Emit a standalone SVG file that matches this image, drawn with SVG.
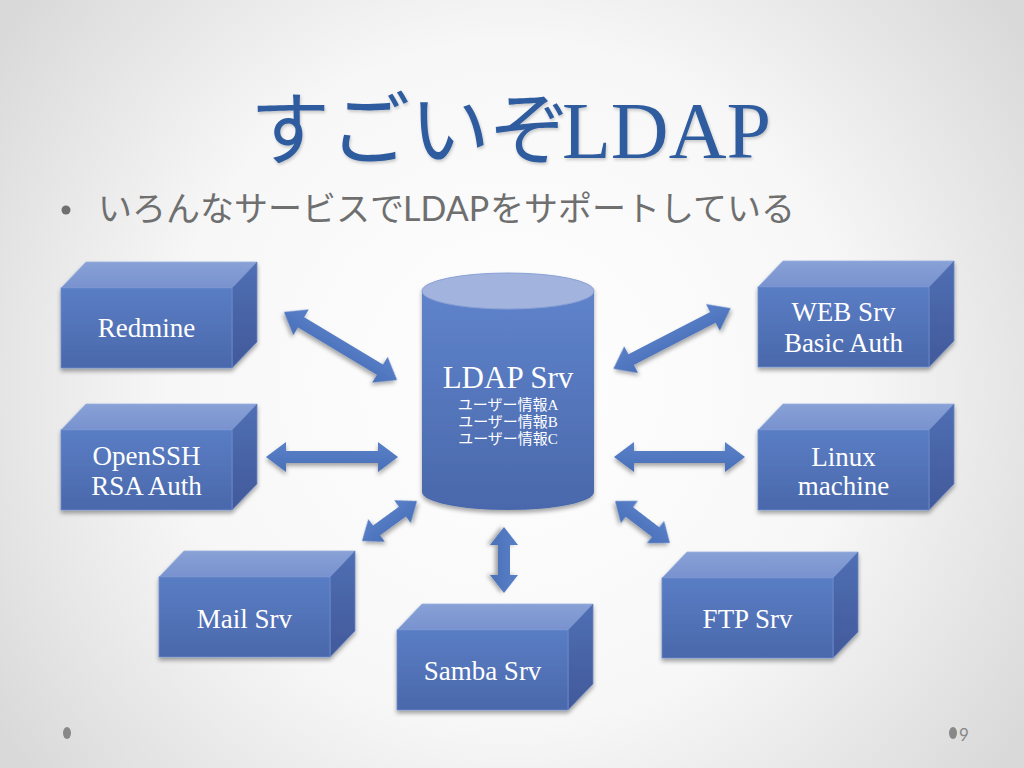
<svg xmlns="http://www.w3.org/2000/svg" xmlns:xlink="http://www.w3.org/1999/xlink" width="1024" height="768" viewBox="0 0 1024 768">
<style>
.lbl{font-family:"Liberation Serif","Noto Sans CJK JP",serif;font-size:27px;fill:#ffffff;text-anchor:middle}
.big{font-size:31px}
.usr{font-size:15px;font-family:"Liberation Serif","Noto Sans CJK JP",serif}
.title{fill:#2f5c9f}
.sub{fill:#6f6f6f;font-family:"Noto Sans CJK JP","Noto Sans",sans-serif;font-size:34px}
.arrow{fill:url(#gArrow);filter:url(#sh)}
</style>
<defs>
<radialGradient id="gBg" cx="512" cy="384" r="620" gradientUnits="userSpaceOnUse">
<stop offset="0" stop-color="#ffffff"/>
<stop offset="0.55" stop-color="#f7f7f7"/>
<stop offset="1" stop-color="#d9d9d9"/>
</radialGradient>
<linearGradient id="gFront" x1="0" y1="0" x2="0" y2="1">
<stop offset="0" stop-color="#5a7dc4"/>
<stop offset="1" stop-color="#4a68ab"/>
</linearGradient>
<linearGradient id="gTop" x1="0" y1="0" x2="0" y2="1">
<stop offset="0" stop-color="#88a1d6"/>
<stop offset="1" stop-color="#7892cf"/>
</linearGradient>
<linearGradient id="gSide" x1="0" y1="0" x2="0" y2="1">
<stop offset="0" stop-color="#506fb4"/>
<stop offset="1" stop-color="#41599a"/>
</linearGradient>
<linearGradient id="gCyl" x1="0" y1="0" x2="0" y2="1">
<stop offset="0" stop-color="#5f83cb"/>
<stop offset="1" stop-color="#4a68ab"/>
</linearGradient>
<linearGradient id="gArrow" x1="0" y1="0" x2="0" y2="1">
<stop offset="0" stop-color="#5880c8"/>
<stop offset="1" stop-color="#4a70b8"/>
</linearGradient>
<filter id="sh" x="-20%" y="-20%" width="140%" height="150%">
<feDropShadow dx="0" dy="3" stdDeviation="2" flood-color="#000" flood-opacity="0.35"/>
</filter>
<filter id="tsh" x="-5%" y="-10%" width="110%" height="130%">
<feDropShadow dx="1" dy="2" stdDeviation="1.5" flood-color="#000" flood-opacity="0.2"/>
</filter>
<g id="box">
<path d="M0,0 L25,-26 L196,-26 L171,0 Z" fill="url(#gTop)" stroke="#9ab0e0" stroke-width="0.8"/>
<path d="M171,0 L196,-26 L196,54 L171,80 Z" fill="url(#gSide)" stroke="#6a86c4" stroke-width="0.8"/>
<rect x="0" y="0" width="171" height="80" fill="url(#gFront)" stroke="#6d8ccc" stroke-width="0.8"/>
</g>
</defs>

<rect x="0" y="0" width="1024" height="768" fill="url(#gBg)"/>

<g id="title" filter="url(#tsh)">
<text y="158" class="title"><tspan x="250" font-family="Noto Sans CJK JP, sans-serif" font-size="80">すごいぞ</tspan><tspan x="562" font-family="Liberation Serif, serif" font-size="80">LDAP</tspan></text>
</g>

<g id="subtitle">
<circle cx="66" cy="210" r="4.5" fill="#6f6f6f"/>
<text y="221" class="sub"><tspan x="98">いろんなサービスで</tspan><tspan x="403" font-family="Lato, Noto Sans, sans-serif">LDAP</tspan><tspan x="490">をサポートしている</tspan></text>
</g>

<g id="connectors">
<path class="arrow" transform="translate(340.5,346) rotate(31)" d="M-66,0 L-46,-15 L-46,-6 L46,-6 L46,-15 L66,0 L46,15 L46,6 L-46,6 L-46,15 Z"/>
<path class="arrow" transform="translate(332,457)" d="M-66,0 L-46,-15 L-46,-6 L46,-6 L46,-15 L66,0 L46,15 L46,6 L-46,6 L-46,15 Z"/>
<path class="arrow" transform="translate(389.5,521) rotate(-36)" d="M-34,0 L-16,-14 L-16,-6 L16,-6 L16,-14 L34,0 L16,14 L16,6 L-16,6 L-16,14 Z"/>
<path class="arrow" transform="translate(504,560) rotate(90)" d="M-33,0 L-15,-14 L-15,-6 L15,-6 L15,-14 L33,0 L15,14 L15,6 L-15,6 L-15,14 Z"/>
<path class="arrow" transform="translate(642.5,522) rotate(37.4)" d="M-34.5,0 L-16.5,-14 L-16.5,-6 L16.5,-6 L16.5,-14 L34.5,0 L16.5,14 L16.5,6 L-16.5,6 L-16.5,14 Z"/>
<path class="arrow" transform="translate(672,338.5) rotate(-27.3)" d="M-66,0 L-46,-15 L-46,-6 L46,-6 L46,-15 L66,0 L46,15 L46,6 L-46,6 L-46,15 Z"/>
<path class="arrow" transform="translate(679.5,457)" d="M-65.5,0 L-45.5,-15 L-45.5,-6 L45.5,-6 L45.5,-15 L65.5,0 L45.5,15 L45.5,6 L-45.5,6 L-45.5,15 Z"/>
</g>

<g id="ldap">
<g filter="url(#sh)">
<path d="M422,291 L422,492 A86,18 0 0 0 594,492 L594,291 Z" fill="url(#gCyl)"/>
<ellipse cx="508" cy="291" rx="86" ry="18" fill="#a2b4de" stroke="#8aa1d6" stroke-width="1"/>
</g>
<text x="508" y="388" class="lbl big">LDAP Srv</text>
<text x="508" y="410" class="lbl usr">ユーザー情報A</text>
<text x="508" y="427" class="lbl usr">ユーザー情報B</text>
<text x="508" y="444" class="lbl usr">ユーザー情報C</text>
</g>

<g id="redmine">
<use xlink:href="#box" x="61" y="288" filter="url(#sh)"/>
<text x="146.5" y="337" class="lbl">Redmine</text>
</g>

<g id="openssh">
<use xlink:href="#box" x="61" y="430" filter="url(#sh)"/>
<text x="146.5" y="465" class="lbl">OpenSSH</text>
<text x="146.5" y="495" class="lbl">RSA Auth</text>
</g>

<g id="mail">
<use xlink:href="#box" x="159" y="577" filter="url(#sh)"/>
<text x="244.5" y="628" class="lbl">Mail Srv</text>
</g>

<g id="samba">
<use xlink:href="#box" x="397" y="630" filter="url(#sh)"/>
<text x="482.5" y="680" class="lbl">Samba Srv</text>
</g>

<g id="ftp">
<use xlink:href="#box" x="662" y="578" filter="url(#sh)"/>
<text x="747.5" y="628" class="lbl">FTP Srv</text>
</g>

<g id="web">
<use xlink:href="#box" x="758" y="287" filter="url(#sh)"/>
<text x="843.5" y="321" class="lbl">WEB Srv</text>
<text x="843.5" y="352" class="lbl">Basic Auth</text>
</g>

<g id="linux">
<use xlink:href="#box" x="758" y="430" filter="url(#sh)"/>
<text x="843.5" y="466" class="lbl">Linux</text>
<text x="843.5" y="495" class="lbl">machine</text>
</g>

<g id="footer">
<ellipse cx="67" cy="733" rx="4" ry="6" fill="#888888"/>
<ellipse cx="953" cy="733" rx="4" ry="6" fill="#888888"/>
<text x="959" y="741" font-family="Lato, Liberation Sans, sans-serif" font-size="17" fill="#888888">9</text>
</g>
</svg>
